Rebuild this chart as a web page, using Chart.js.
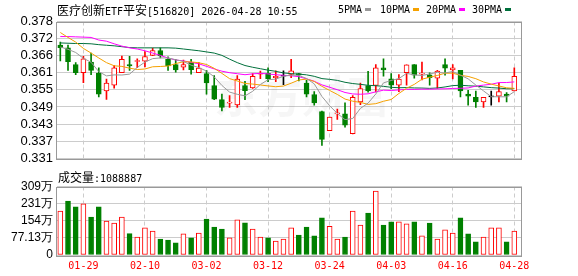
<!DOCTYPE html>
<html>
<head>
<meta charset="utf-8">
<script src="https://cdn.jsdelivr.net/npm/chart.js@4.4.1/dist/chart.umd.min.js"></script>
<style>
  body { margin: 0; background: #fff; }
  #wrap { position: relative; width: 578px; height: 276px; overflow: hidden; background: #fff; }
  canvas { position: absolute; left: 0; }
  #priceCanvas { top: 0; }
  #volCanvas { top: 170px; }
  .txt { position: absolute; white-space: nowrap; color: #000; line-height: 14px;
         font-family: "DejaVu Sans Mono", monospace; font-size: 10px; }
  .cjk { font-family: "Noto Sans CJK SC"; font-size: 12px; }
  .sw { position: absolute; width: 6px; height: 3px; }
</style>
</head>
<body>
<div id="wrap">
  <canvas id="priceCanvas" width="578" height="170"></canvas>
  <canvas id="volCanvas" width="578" height="106"></canvas>
  <div class="txt" id="title" style="left:57px; top:3px;"><span class="cjk">医疗创新</span>ETF<span class="cjk">平安</span>[516820] 2026-04-28 10:55</div>
  <div class="txt" id="volTitle" style="left:58px; top:170px;"></div>
</div>
<script>
// ---- data ----
const dates = ['01-26','01-27','01-28','01-29','01-30','02-02','02-03','02-04','02-05','02-06',
  '02-09','02-10','02-11','02-12','02-13','02-24','02-25','02-26','02-27','03-02',
  '03-03','03-04','03-05','03-06','03-09','03-10','03-11','03-12','03-13','03-16',
  '03-17','03-18','03-19','03-20','03-23','03-24','03-25','03-26','03-27','03-30',
  '03-31','04-01','04-02','04-03','04-07','04-08','04-09','04-10','04-13','04-14',
  '04-15','04-16','04-17','04-20','04-21','04-22','04-23','04-24','04-27','04-28'];

const opens = [.3706,.3696,.3638,.3610,.3647,.3609,.3547,.3567,.3610,.3638,
  .3649,.3650,.3670,.3687,.3656,.3638,.3629,.3646,.3610,.3607,
  .3566,.3517,.3505,.3499,.3566,.3558,.3605,.3608,.3593,.3598,
  .3604,.3607,.3574,.3535,.3476,.3410,.3468,.3468,.3400,.3509,
  .3566,.3566,.3627,.3589,.3567,.3610,.3638,.3605,.3603,.3591,
  .3638,.3620,.3618,.3536,.3525,.3509,.3527,.3529,.3536,.3547];
const highs = [.3716,.3706,.3645,.3667,.3678,.3627,.3588,.3635,.3668,.3667,
  .3658,.3683,.3695,.3696,.3665,.3656,.3654,.3656,.3645,.3618,
  .3600,.3536,.3531,.3600,.3580,.3607,.3616,.3627,.3617,.3617,
  .3656,.3608,.3584,.3545,.3478,.3457,.3485,.3506,.3531,.3574,
  .3615,.3638,.3658,.3607,.3604,.3637,.3638,.3647,.3610,.3618,
  .3658,.3638,.3618,.3549,.3547,.3525,.3547,.3574,.3542,.3627];
const lows = [.3651,.3618,.3603,.3576,.3603,.3527,.3518,.3557,.3610,.3618,
  .3628,.3630,.3669,.3661,.3618,.3612,.3620,.3605,.3610,.3536,
  .3517,.3478,.3490,.3490,.3517,.3556,.3590,.3579,.3579,.3569,
  .3593,.3582,.3527,.3498,.3359,.3410,.3449,.3422,.3399,.3500,
  .3543,.3544,.3598,.3555,.3545,.3567,.3591,.3585,.3567,.3556,
  .3602,.3589,.3527,.3498,.3490,.3490,.3498,.3509,.3509,.3547];
const closes = [.3697,.3648,.3610,.3658,.3618,.3536,.3574,.3627,.3656,.3634,
  .3651,.3666,.3687,.3668,.3634,.3620,.3638,.3621,.3626,.3575,
  .3519,.3490,.3506,.3588,.3548,.3598,.3607,.3589,.3598,.3598,
  .3617,.3602,.3536,.3506,.3380,.3457,.3469,.3429,.3525,.3555,
  .3548,.3627,.3620,.3567,.3588,.3637,.3602,.3609,.3593,.3616,
  .3626,.3627,.3547,.3529,.3509,.3525,.3527,.3545,.3529,.3598];

// volume in 万
const volumes = [198,243,217,230,171,217,153,144,171,96,
  81,122,108,72,67.5,55,95,77,99,162,
  126,117,77,158,145,117,81,77,63,72,
  122,90,126,86,167,129,72,81,198,135,
  189,288,135,149,149,140,149,86,144,72,
  113,99,167,95,59,81,122,122,59,108];
const lastVolume = 1088887;

// moving averages before a full window is on screen
const ma5Head = [.3699,.3691,.3680,.3660];
const ma10Head = [.3749,.3732,.3716,.3694,.3678,.3661,.3645,.3634,.3632];
const ma20Head = [.3735,.3735,.3734,.3733,.3732,.3723,.3719,.3710,.3702,.3696,
  .3692,.3686,.3678,.3670,.3661,.3654,.3651,.3646,.3641];
const ma30Head = [.3713,.3712,.3711,.3711,.3710,.3707,.3705,.3703,.3700,.3697,
  .3696,.3696,.3696,.3696,.3696,.3695,.3692,.3689,.3686,.3682,
  .3678,.3670,.3657,.3645,.3635,.3629,.3624,.3619,.3615];

const tickDates = ['01-29','02-10','03-02','03-12','03-24','04-03','04-16','04-28'];
const priceMin = 0.3315, priceMax = 0.3787;
const priceLabels = ['0.331','0.337','0.343','0.349','0.355','0.361','0.366','0.372','0.378'];
const volStep = 77.13;
const volLabels = ['0','77.13万','154万','231万','309万'];

const maNames = ['5PMA','10PMA','20PMA','30PMA'];
const maColors = ['#999999','#f5a100','#ff00ff','#00703c'];

// ---- helpers ----
const RED = '#ff0000', GREEN = '#008000';

function movingAvg(n, head) {
  return closes.map((c, i) => {
    if (i < n - 1) return head[i];
    let s = 0;
    for (let k = i - n + 1; k <= i; k++) s += closes[k];
    return s / n;
  });
}
const maSeries = [movingAvg(5, ma5Head), movingAvg(10, ma10Head), movingAvg(20, ma20Head), movingAvg(30, ma30Head)];

const candleColor = closes.map((c, i) => c > opens[i] ? RED : (c < opens[i] ? GREEN : '#000'));
const bodyFill = closes.map((c, i) => c > opens[i] ? '#fff' : candleColor[i]);
const volUp = closes.map((c, i) => i === 0 || c >= closes[i - 1]);
const tickIdx = tickDates.map(d => dates.indexOf(d));

// legend + volume caption as text
const legendX = [338, 380, 426, 472];
maNames.forEach((name, k) => {
  const t = document.createElement('div');
  t.className = 'txt';
  t.style.left = legendX[k] + 'px';
  t.style.top = '3px';
  t.textContent = name;
  document.getElementById('wrap').appendChild(t);
  const sw = document.createElement('div');
  sw.className = 'sw';
  sw.style.left = (legendX[k] + name.length * 6 + 3) + 'px';
  sw.style.top = '8px';
  sw.style.background = maColors[k];
  document.getElementById('wrap').appendChild(sw);
});
document.getElementById('volTitle').innerHTML = '<span class="cjk">成交量</span>:' + lastVolume;

// frame around the plot area
const framePlugin = {
  id: 'frame',
  afterDraw(chart) {
    const a = chart.chartArea, ctx = chart.ctx;
    ctx.save();
    ctx.strokeStyle = '#999';
    ctx.lineWidth = 1;
    ctx.strokeRect(Math.round(a.left) - 0.5, Math.round(a.top) + 0.5,
      Math.round(a.right - a.left), Math.round(a.bottom - a.top));
    ctx.restore();
  }
};

const watermark = {
  id: 'watermark',
  beforeDatasetsDraw(chart) {
    const ctx = chart.ctx;
    ctx.save();
    ctx.font = 'bold 44px "Noto Sans CJK SC"';
    ctx.fillStyle = 'rgba(0,0,0,0.035)';
    ctx.textAlign = 'left';
    ctx.textBaseline = 'middle';
    ctx.fillText('东方财富', 214, 96);
    ctx.restore();
  }
};

const xCommon = {
  type: 'linear',
  min: -0.43,
  max: 60,
  offset: false,
  afterBuildTicks: s => { s.ticks = tickIdx.map(v => ({ value: v })); },
  grid: { color: '#cccccc', drawTicks: false, offset: false },
  border: { display: false, dash: [4, 3] }
};

// ---- price chart ----
new Chart(document.getElementById('priceCanvas'), {
  type: 'bar',
  data: {
    datasets: [
      ...maSeries.map((m, k) => ({
        type: 'line',
        data: m.map((v, i) => ({ x: i, y: v })),
        borderColor: maColors[k],
        borderWidth: 1,
        pointRadius: 0,
        tension: 0,
        order: 0
      })),
      {
        data: opens.map((o, i) => ({ x: i, y: [o, closes[i]] })),
        backgroundColor: bodyFill,
        borderColor: candleColor,
        borderWidth: 1,
        borderSkipped: false,
        barThickness: 5,
        minBarLength: 1,
        grouped: false,
        order: 1
      },
      {
        data: lows.map((l, i) => ({ x: i, y: [l, highs[i]] })),
        backgroundColor: candleColor,
        borderWidth: 0,
        barThickness: 1,
        grouped: false,
        order: 2
      }
    ]
  },
  options: {
    responsive: false,
    animation: false,
    layout: { padding: { left: 0, right: 56, top: 21.5, bottom: 4.3 } },
    plugins: { legend: { display: false }, tooltip: { enabled: false } },
    scales: {
      x: Object.assign({}, xCommon, {
        ticks: { display: false, autoSkip: false },
        afterFit: s => { s.height = 0; }
      }),
      y: {
        min: priceMin,
        max: priceMax,
        beginAtZero: false,
        afterBuildTicks: s => {
          s.ticks = priceLabels.map((_, k) => ({ value: priceMin + k * (priceMax - priceMin) / 8 }));
        },
        afterFit: s => { s.width = 57; },
        ticks: {
          callback: (v, i) => priceLabels[i],
          autoSkip: false,
          color: '#000',
          padding: 4,
          font: { family: 'Liberation Sans', size: 13 }
        },
        grid: { color: '#cccccc', drawTicks: false },
        border: { display: false }
      }
    }
  },
  plugins: [watermark, framePlugin]
});

// ---- volume chart ----
new Chart(document.getElementById('volCanvas'), {
  type: 'bar',
  data: {
    datasets: [{
      data: volumes.map((v, i) => ({ x: i, y: v })),
      backgroundColor: volUp.map(u => u ? '#fff' : GREEN),
      borderColor: volUp.map(u => u ? RED : GREEN),
      borderWidth: 1,
      borderSkipped: false,
      barThickness: 5,
      grouped: false
    }]
  },
  options: {
    responsive: false,
    animation: false,
    layout: { padding: { left: 0, right: 56, top: 16.5, bottom: 0 } },
    plugins: { legend: { display: false }, tooltip: { enabled: false } },
    scales: {
      x: Object.assign({}, xCommon, {
        ticks: {
          callback: v => dates[v],
          color: RED,
          padding: 5,
          autoSkip: false,
          maxRotation: 0,
          font: { family: 'DejaVu Sans Mono', size: 10 }
        },
        afterFit: s => { s.height = 21; }
      }),
      y: {
        min: 0,
        max: volStep * 4,
        afterBuildTicks: s => {
          s.ticks = volLabels.map((_, k) => ({ value: k * volStep }));
        },
        afterFit: s => { s.width = 57; },
        ticks: {
          callback: (v, i) => volLabels[i],
          autoSkip: false,
          color: '#000',
          padding: 4,
          font: { family: 'Liberation Sans', size: 12 }
        },
        grid: { color: '#cccccc', drawTicks: false },
        border: { display: false }
      }
    }
  },
  plugins: [framePlugin]
});
</script>
</body>
</html>
